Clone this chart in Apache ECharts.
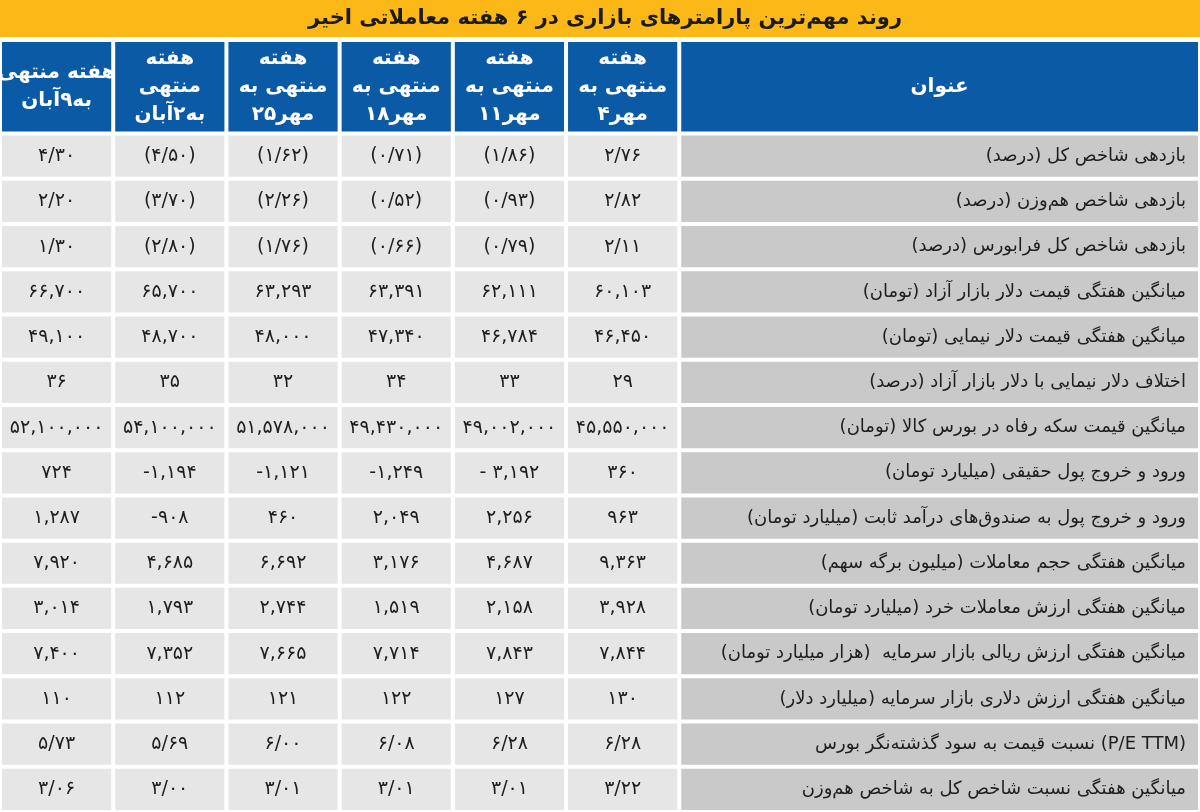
<!DOCTYPE html>
<html>
<head>
<meta charset="utf-8">
<title>روند مهم‌ترین پارامترهای بازاری</title>
<script src="https://cdn.jsdelivr.net/npm/echarts@6/dist/echarts.min.js"></script>
<style>html,body{margin:0;padding:0;background:#fff}#main{width:1200px;height:812px}</style>
</head>
<body>
<div id="main"></div>
<script>
var chartTitle = 'روند مهم‌ترین پارامترهای بازاری در ۶ هفته معاملاتی اخیر';
// columns from right to left in the picture
var weeks = ['هفته\nمنتهی به\n۴مهر', 'هفته\nمنتهی به\n۱۱مهر', 'هفته\nمنتهی به\n۱۸مهر', 'هفته\nمنتهی به\n۲۵مهر', 'هفته\nمنتهی\nبه۲آبان', 'هفته منتهی\nبه۹آبان'];
var headTitle = 'عنوان';
var rowNames = [
  'بازدهی شاخص کل (درصد)',
  'بازدهی شاخص هم‌وزن (درصد)',
  'بازدهی شاخص کل فرابورس (درصد)',
  'میانگین هفتگی قیمت دلار بازار آزاد (تومان)',
  'میانگین هفتگی قیمت دلار نیمایی (تومان)',
  'اختلاف دلار نیمایی با دلار بازار آزاد (درصد)',
  'میانگین قیمت سکه رفاه در بورس کالا (تومان)',
  'ورود و خروج پول حقیقی (میلیارد تومان)',
  'ورود و خروج پول به صندوق‌های درآمد ثابت (میلیارد تومان)',
  'میانگین هفتگی حجم معاملات (میلیون برگه سهم)',
  'میانگین هفتگی ارزش معاملات خرد (میلیارد تومان)',
  'میانگین هفتگی ارزش ریالی بازار سرمایه  (هزار میلیارد تومان)',
  'میانگین هفتگی ارزش دلاری بازار سرمایه (میلیارد دلار)',
  'نسبت قیمت به سود گذشته‌نگر بورس (P/E TTM)',
  'میانگین هفتگی نسبت شاخص کل به شاخص هم‌وزن'
];
var week1 = ['۲/۷۶','۲/۸۲','۲/۱۱','۶۰,۱۰۳','۴۶,۴۵۰','۲۹','۴۵,۵۵۰,۰۰۰','۳۶۰','۹۶۳','۹,۳۶۳','۳,۹۲۸','۷,۸۴۴','۱۳۰','۶/۲۸','۳/۲۲'];
var week2 = ['(۱/۸۶)','(۰/۹۳)','(۰/۷۹)','۶۲,۱۱۱','۴۶,۷۸۴','۳۳','۴۹,۰۰۲,۰۰۰','- ۳,۱۹۲','۲,۲۵۶','۴,۶۸۷','۲,۱۵۸','۷,۸۴۳','۱۲۷','۶/۲۸','۳/۰۱'];
var week3 = ['(۰/۷۱)','(۰/۵۲)','(۰/۶۶)','۶۳,۳۹۱','۴۷,۳۴۰','۳۴','۴۹,۴۳۰,۰۰۰','-۱,۲۴۹','۲,۰۴۹','۳,۱۷۶','۱,۵۱۹','۷,۷۱۴','۱۲۲','۶/۰۸','۳/۰۱'];
var week4 = ['(۱/۶۲)','(۲/۲۶)','(۱/۷۶)','۶۳,۲۹۳','۴۸,۰۰۰','۳۲','۵۱,۵۷۸,۰۰۰','-۱,۱۲۱','۴۶۰','۶,۶۹۲','۲,۷۴۴','۷,۶۶۵','۱۲۱','۶/۰۰','۳/۰۱'];
var week5 = ['(۴/۵۰)','(۳/۷۰)','(۲/۸۰)','۶۵,۷۰۰','۴۸,۷۰۰','۳۵','۵۴,۱۰۰,۰۰۰','-۱,۱۹۴','-۹۰۸','۴,۶۸۵','۱,۷۹۳','۷,۳۵۲','۱۱۲','۵/۶۹','۳/۰۰'];
var week6 = ['۴/۳۰','۲/۲۰','۱/۳۰','۶۶,۷۰۰','۴۹,۱۰۰','۳۶','۵۲,۱۰۰,۰۰۰','۷۲۴','۱,۲۸۷','۷,۹۲۰','۳,۰۱۴','۷,۴۰۰','۱۱۰','۵/۷۳','۳/۰۶'];
var weekValues = [week1, week2, week3, week4, week5, week6];

// x units: data column k (0 = rightmost week) spans [5-k, 6-k]; title column spans [6, 10.6]
// y units: header spans [0, 2.07], row r spans [2.07+r, 3.07+r]
var HEAD = 2.07, TITLE_END = 10.6;
var cells = [];
weeks.forEach(function (w, k) { cells.push({ value: [5 - k, 0, 6 - k, HEAD], text: w, kind: 'head' }); });
cells.push({ value: [6, 0, TITLE_END, HEAD], text: headTitle, kind: 'head' });
rowNames.forEach(function (name, r) {
  cells.push({ value: [6, HEAD + r, TITLE_END, HEAD + r + 1], text: name, kind: 'name' });
  weekValues.forEach(function (arr, k) {
    cells.push({ value: [5 - k, HEAD + r, 6 - k, HEAD + r + 1], text: arr[r], kind: 'val' });
  });
});

var fill = { head: '#0b5aa6', name: '#c9c9c9', val: '#e6e6e6' };
var chart = echarts.init(document.getElementById('main'));
chart.setOption({
  animation: false,
  textStyle: { fontFamily: 'DejaVu Sans' },
  graphic: [
    { type: 'rect', shape: { x: 0, y: 0, width: 1200, height: 37 }, style: { fill: '#fbb817' } },
    { type: 'text', x: 605, y: 19, style: { text: chartTitle, fill: '#1b1b1b', font: 'bold 21px "DejaVu Sans"', align: 'center', verticalAlign: 'middle' } }
  ],
  grid: { left: 0, right: 0, top: 40, bottom: 0 },
  xAxis: { type: 'value', min: 0, max: TITLE_END, show: false },
  yAxis: { type: 'value', min: 0, max: HEAD + rowNames.length, inverse: true, show: false },
  series: [{
    type: 'custom',
    data: cells,
    renderItem: function (params, api) {
      var c = cells[params.dataIndex];
      var p0 = api.coord([api.value(0), api.value(1)]);
      var p1 = api.coord([api.value(2), api.value(3)]);
      var g = 2;
      var x = p0[0] + g, y = p0[1] + g, w = p1[0] - p0[0] - 2 * g, h = p1[1] - p0[1] - 2 * g;
      var txt;
      if (c.kind === 'name') {
        txt = { type: 'text', style: { text: c.text, x: x + w - 12, y: y + h / 2, align: 'right', verticalAlign: 'middle', fill: '#1e1e1e', font: '18px "DejaVu Sans"' } };
      } else if (c.kind === 'head') {
        txt = { type: 'text', style: { text: c.text, x: x + w / 2, y: y + h / 2, align: 'center', verticalAlign: 'middle', fill: '#ffffff', font: 'bold 20px "DejaVu Sans"', lineHeight: 28 } };
      } else {
        txt = { type: 'text', style: { text: c.text, x: x + w / 2, y: y + h / 2, align: 'center', verticalAlign: 'middle', fill: '#1e1e1e', font: '19px "DejaVu Sans"' } };
      }
      return { type: 'group', children: [
        { type: 'rect', shape: { x: x, y: y, width: w, height: h }, style: { fill: fill[c.kind] } },
        txt
      ] };
    }
  }]
});
</script>
</body>
</html>
